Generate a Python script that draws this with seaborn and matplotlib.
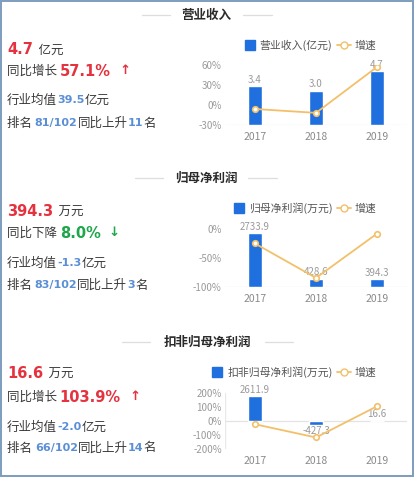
import matplotlib
matplotlib.use("Agg")
import matplotlib.pyplot as plt
import seaborn as sns
import numpy as np
import pandas as pd
from matplotlib.lines import Line2D
from matplotlib.patches import Rectangle
from matplotlib.ticker import FuncFormatter, FixedLocator

# ---------------- data ----------------
years = ["2017", "2018", "2019"]

revenue = [3.4, 3.0, 4.7]                 # 亿元
revenue_growth = [-6.0, -11.8, 57.1]      # %
net_profit = [2733.9, 428.6, 394.3]       # 万元
net_profit_growth = [-25.0, -84.3, -8.0]  # %
deducted_profit = [2611.9, -427.3, 16.6]  # 万元
deducted_growth = [-23.0, -116.4, 103.9]  # %

titles = ["营业收入", "归母净利润", "扣非归母净利润"]
bar_names = ["营业收入(亿元)", "归母净利润(万元)", "扣非归母净利润(万元)"]
growth_name = "增速"
growth_ticks = [[-30, 0, 30, 60], [-100, -50, 0], [-200, -100, 0, 100, 200]]

main_values = ["4.7", "394.3", "16.6"]
main_units = ["亿元", "万元", "万元"]
change_words = ["同比增长", "同比下降", "同比增长"]
change_values = ["57.1%", "8.0%", "103.9%"]
change_up = [True, False, True]
industry_avg = ["39.5", "-1.3", "-2.0"]
rank_text = ["81/102", "83/102", "66/102"]
rank_change = ["11", "3", "14"]

# ---------------- style ----------------
sns.set_theme(style="white")
plt.rcParams["font.family"] = ["Noto Sans CJK SC", "DejaVu Sans"]

W, H = 417, 479
fig = plt.figure(figsize=(W / 100, H / 100), dpi=100)
fig.patch.set_facecolor("white")

BLUE = "#1f6fde"
ORANGE = "#f3c06a"
RED = "#e5323f"
GREEN = "#1fa64a"
LBLUE = "#5a8fd6"
DARK = "#3a3a3a"
GRAY = "#9a9a9a"
NUMFONT = ["DejaVu Sans", "Noto Sans CJK SC"]
CJKFONT = ["Noto Sans CJK SC", "DejaVu Sans"]


def fx(x):
    return x / W


def fy(y):
    return 1 - y / H


renderer = fig.canvas.get_renderer()


def seg_text(x, y, pieces):
    cx = x
    for txt, color, size, weight, fam in pieces:
        t = fig.text(fx(cx), fy(y), txt, color=color, fontsize=size, family=fam,
                     fontweight=weight, va="center", ha="left")
        bb = t.get_window_extent(renderer=renderer)
        cx += bb.width


# border
fig.add_artist(Rectangle((fx(1), fy(476)), fx(412), 475 / H,
                         transform=fig.transFigure, fill=False,
                         edgecolor="#7d9cbd", linewidth=1.4))

# ---------------- panel geometry ----------------
header_y = [15, 178, 342]
header_lines = [((142, 170), (243, 272)), ((135, 163), (248, 277)), ((122, 150), (265, 293))]
header_cx = [206, 206, 207.5]
axes_tb = [(65, 125), (229, 287), (392.7, 449.3)]
bar_lims = [(0, 5.22), (0, 2936), (-2957, 2957)]
legend_y = [45, 208, 372]
text_rows = [(50, 71, 100, 123), (212, 233, 263, 285), (374, 397, 427, 448)]

bars_all = [revenue, net_profit, deducted_profit]
growth_all = [revenue_growth, net_profit_growth, deducted_growth]

for i in range(3):
    # header
    fig.text(fx(header_cx[i]), fy(header_y[i]), titles[i], ha="center", va="center",
             fontsize=9, fontweight="bold", color="#2a2a2a")
    for (a, b) in header_lines[i]:
        fig.add_artist(Line2D([fx(a), fx(b)], [fy(header_y[i]), fy(header_y[i])],
                              transform=fig.transFigure, color="#dddddd", lw=0.9))

    # left texts
    r = text_rows[i]
    seg_text(7, r[0], [(main_values[i], RED, 10.5, "bold", NUMFONT),
                       ("  " + main_units[i], DARK, 9, "normal", CJKFONT)])
    ccol = RED if change_up[i] else GREEN
    arrow = "↑" if change_up[i] else "↓"
    seg_text(7, r[1], [(change_words[i] + " ", DARK, 9, "normal", CJKFONT),
                       (change_values[i], ccol, 10.5, "bold", NUMFONT),
                       ("   ", DARK, 9, "normal", CJKFONT),
                       (arrow, ccol, 9.5, "bold", NUMFONT)])
    seg_text(7, r[2], [("行业均值", DARK, 9, "normal", CJKFONT),
                       (industry_avg[i], LBLUE, 8, "bold", NUMFONT),
                       ("亿元", DARK, 9, "normal", CJKFONT)])
    seg_text(7, r[3], [("排名 ", DARK, 9, "normal", CJKFONT),
                       (rank_text[i], LBLUE, 8, "bold", NUMFONT),
                       ("同比上升", DARK, 9, "normal", CJKFONT),
                       (rank_change[i], LBLUE, 8, "bold", NUMFONT),
                       ("名", DARK, 9, "normal", CJKFONT)])

    # chart
    top, bot = axes_tb[i]
    left, right = 224.5, 407.5
    ax = fig.add_axes([fx(left), fy(bot), (right - left) / W, (bot - top) / H])
    axb = ax.twinx()

    df = pd.DataFrame({"year": years, "value": bars_all[i], "growth": growth_all[i]})
    sns.barplot(data=df, x="year", y="value", ax=axb, color=BLUE, width=0.23,
                saturation=1, order=years)
    axb.set_ylim(*bar_lims[i])
    axb.set_yticks([])
    axb.set_ylabel("")
    axb.set_xlabel("")
    cont = axb.containers[0]
    axb.bar_label(cont, labels=["{:.1f}".format(v) for v in bars_all[i]],
                  padding=1, fontsize=7, color=GRAY)
    for s in axb.spines.values():
        s.set_visible(False)

    sns.pointplot(data=df, x="year", y="growth", ax=ax, color=ORANGE, order=years,
                  markers="o", markersize=4, linewidth=1.3, errorbar=None)
    for ln in ax.lines:
        ln.set_markerfacecolor("white")
        ln.set_markeredgecolor(ORANGE)
        ln.set_markeredgewidth(1.2)
    ax.set_ylim(growth_ticks[i][0], growth_ticks[i][-1])
    ax.set_xlim(-0.5, 2.5)
    axb.set_xlim(-0.5, 2.5)
    ax.yaxis.set_major_locator(FixedLocator(growth_ticks[i]))
    ax.yaxis.set_major_formatter(FuncFormatter(lambda v, p: f"{int(round(v))}%"))
    ax.tick_params(axis="y", length=0, pad=2, labelsize=7, labelcolor=GRAY)
    ax.tick_params(axis="x", length=0, pad=5, labelsize=7.5, labelcolor="#8a8a8a")
    ax.set_xlabel("")
    ax.set_ylabel("")
    for s in ax.spines.values():
        s.set_visible(False)
    ax.set_zorder(axb.get_zorder() + 1)
    ax.patch.set_visible(False)

    # zero / base line of bar axis
    axb.axhline(0, color="#e3e3e3", lw=0.9, zorder=0)
    if i == 2:
        ax.axvline(-0.5, color="#e8e8e8", lw=0.9, zorder=0)

    # legend
    handles = [Line2D([0], [0], marker="s", color="none", markerfacecolor=BLUE,
                      markeredgecolor=BLUE, markersize=7),
               Line2D([0], [0], marker="o", color=ORANGE, markerfacecolor="white",
                      markeredgecolor=ORANGE, markersize=5, lw=1.3)]
    fig.legend(handles, [bar_names[i], growth_name], loc="center right",
               bbox_to_anchor=(fx(376), fy(legend_y[i])), ncol=2, frameon=False,
               fontsize=7.8, labelcolor="#555555", handlelength=1.3,
               handletextpad=0.3, columnspacing=0.4, borderpad=0, borderaxespad=0)

fig.savefig("out.png", dpi=100, facecolor="white")
